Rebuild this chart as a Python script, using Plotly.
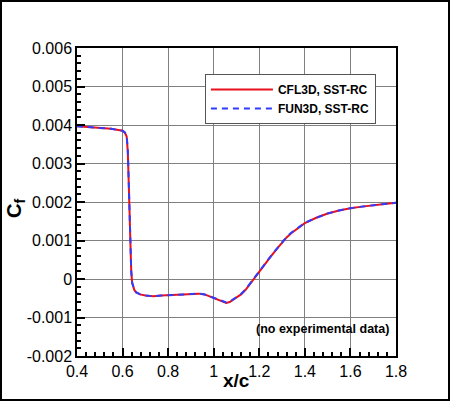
import plotly.graph_objects as go

# surface skin friction, x/c vs Cf
x_cfl3d = [0.40, 0.45, 0.50, 0.55, 0.60, 0.61, 0.618, 0.623, 0.627, 0.630, 0.634,
           0.638, 0.642, 0.647, 0.652, 0.660, 0.677, 0.70, 0.736, 0.77, 0.80, 0.85,
           0.88, 0.91, 0.935, 0.96, 0.985, 1.01, 1.03, 1.045, 1.055, 1.07, 1.095,
           1.12, 1.14, 1.16, 1.18, 1.205, 1.23, 1.25, 1.28, 1.30, 1.32, 1.34, 1.37,
           1.40, 1.45, 1.50, 1.55, 1.60, 1.65, 1.70, 1.75, 1.80]
cf_cfl3d = [0.00397, 0.00395, 0.00393, 0.00390, 0.00385, 0.00380, 0.00370, 0.00330,
            0.00250, 0.00160, 0.00080, 0.00020, -0.00010, -0.00022, -0.00029,
            -0.00035, -0.00040, -0.00043, -0.00045, -0.00043, -0.00042, -0.00041,
            -0.00040, -0.00039, -0.00038, -0.00040, -0.00046, -0.00051, -0.00056,
            -0.00060, -0.00062, -0.00060, -0.00051, -0.00040, -0.00028, -0.00012,
            0.00004, 0.00023, 0.00042, 0.00058, 0.00080, 0.00095, 0.00108, 0.00119,
            0.00133, 0.00145, 0.00159, 0.00170, 0.00178, 0.00184, 0.00188, 0.00192,
            0.00195, 0.00198]

x_fun3d = [0.40, 0.45, 0.50, 0.55, 0.60, 0.61, 0.618, 0.623, 0.627, 0.630, 0.634,
           0.638, 0.642, 0.647, 0.652, 0.660, 0.677, 0.70, 0.736, 0.77, 0.80, 0.85,
           0.88, 0.91, 0.935, 0.96, 0.985, 1.01, 1.03, 1.045, 1.055, 1.07, 1.095,
           1.12, 1.14, 1.16, 1.18, 1.205, 1.23, 1.25, 1.28, 1.30, 1.32, 1.34, 1.37,
           1.40, 1.45, 1.50, 1.55, 1.60, 1.65, 1.70, 1.75, 1.80]
cf_fun3d = [0.00397, 0.00395, 0.00393, 0.00390, 0.00385, 0.00381, 0.00372, 0.00335,
            0.00255, 0.00165, 0.00082, 0.00022, -0.00009, -0.00021, -0.00029,
            -0.00035, -0.00040, -0.00043, -0.00045, -0.00043, -0.00042, -0.00041,
            -0.00040, -0.00039, -0.00038, -0.00040, -0.00046, -0.00051, -0.00056,
            -0.00060, -0.00061, -0.00059, -0.00050, -0.00039, -0.00027, -0.00011,
            0.00005, 0.00024, 0.00043, 0.00059, 0.00081, 0.00096, 0.00109, 0.00120,
            0.00134, 0.00146, 0.00159, 0.00170, 0.00178, 0.00184, 0.00188, 0.00192,
            0.00195, 0.00198]

x_ticks = [0.4, 0.6, 0.8, 1.0, 1.2, 1.4, 1.6, 1.8]
x_ticklabels = ["0.4", "0.6", "0.8", "1", "1.2", "1.4", "1.6", "1.8"]
y_ticks = [-0.002, -0.001, 0.0, 0.001, 0.002, 0.003, 0.004, 0.005, 0.006]
y_ticklabels = ["-0.002", "-0.001", "0", "0.001", "0.002", "0.003", "0.004", "0.005", "0.006"]

FONT = "Liberation Sans, Arial, Helvetica, sans-serif"

fig = go.Figure()
fig.add_trace(go.Scatter(x=x_cfl3d, y=cf_cfl3d, mode="lines", name="CFL3D, SST-RC",
                         line=dict(color="#e8101c", width=2)))
fig.add_trace(go.Scatter(x=x_fun3d, y=cf_fun3d, mode="lines", name="FUN3D, SST-RC",
                         line=dict(color="#2f3cff", width=2, dash="6px,5px")))

axis_common = dict(
    showgrid=True, gridcolor="#808080", gridwidth=1.2,
    zeroline=False, showline=True, linecolor="black", linewidth=1.5, mirror=True,
    ticks="inside", ticklen=8, tickwidth=1.5, tickcolor="black",
    tickfont=dict(family=FONT, size=16, color="black"),
)

fig.update_layout(
    width=450, height=401,
    paper_bgcolor="white", plot_bgcolor="white",
    margin=dict(l=77, r=54, t=48, b=45),
    font=dict(family=FONT, color="black"),
    showlegend=True,
    legend=dict(
        x=0.401, y=0.9156, xanchor="left", yanchor="top",
        bgcolor="white", bordercolor="#555555", borderwidth=1,
        font=dict(family=FONT, size=12, color="black", weight="bold"),
        itemwidth=62, tracegroupgap=0,
    ),
    xaxis=dict(axis_common, range=[0.4, 1.8], tickvals=x_ticks, ticktext=x_ticklabels,
               minor=dict(ticks="inside", ticklen=4, tickcolor="black", dtick=0.04, showgrid=False)),
    yaxis=dict(axis_common, range=[-0.002, 0.006], tickvals=y_ticks, ticktext=y_ticklabels,
               minor=dict(ticks="inside", ticklen=4, tickcolor="black", dtick=0.0002, showgrid=False)),
)

fig.add_annotation(x=0.5, y=-0.08, xref="paper", yref="paper", text="<b>x/c</b>",
                   showarrow=False, xanchor="center", yanchor="middle",
                   font=dict(family=FONT, size=19, color="black"))
fig.add_annotation(x=-0.195, y=0.48, xref="paper", yref="paper", text="<b>C<sub>f</sub></b>",
                   showarrow=False, textangle=-90, xanchor="center", yanchor="middle",
                   font=dict(family=FONT, size=20, color="black"))
fig.add_annotation(x=0.985, y=0.087, xref="paper", yref="paper",
                   text="<b>(no experimental data)</b>",
                   showarrow=False, xanchor="right", yanchor="middle",
                   font=dict(family=FONT, size=12.5, color="black"))

# outer frame around the whole picture
fig.add_shape(type="rect", xref="paper", yref="paper",
              x0=-76 / 319, x1=372 / 319, y0=-44 / 308, y1=355 / 308,
              line=dict(color="black", width=2), fillcolor="rgba(0,0,0,0)")

fig.write_html("out.html", config={"displayModeBar": False},
               post_script="document.body.style.margin='0px';")
